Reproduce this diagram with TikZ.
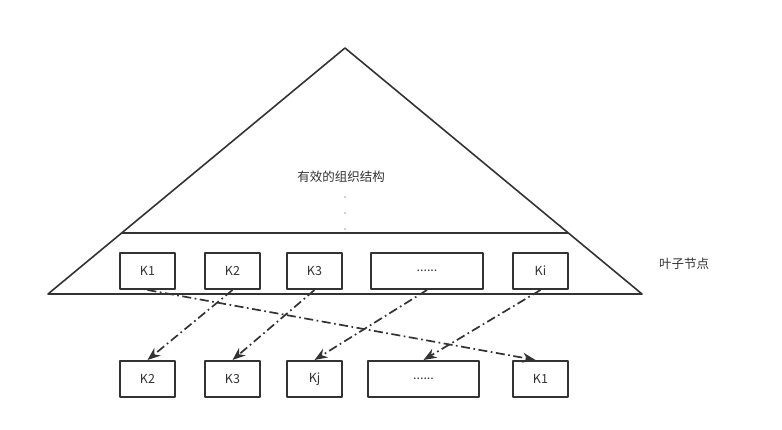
\documentclass[tikz,border=0pt]{standalone}
\usepackage{fontspec}
\setmainfont{Noto Sans CJK SC}
\usetikzlibrary{arrows.meta}
\definecolor{ink}{HTML}{333333}
\begin{document}
\begin{tikzpicture}[x=1pt, y=-1pt, >={Stealth[length=13pt,width=10pt]}, line join=round,
	key/.style={draw=ink, line width=2pt, minimum width=55pt, minimum height=36pt, inner sep=0pt, text=ink, font=\fontsize{12.5}{14}\selectfont},
	link/.style={->, ink, line width=1.7pt, dash pattern=on 9pt off 3.5pt on 1.7pt off 3.5pt}]
	\useasboundingbox (0,0) rectangle (782,430);
	% tree
	\draw[ink, line width=1.6pt] (345,48) -- (642,294) -- (48,294) -- cycle;
	\draw[ink, line width=1.6pt] (121.6,233) -- (568.4,233);
	\path (341,177) node[text=ink, font=\fontsize{12.5}{14}\selectfont] (inner) {有效的组织结构};
	\foreach \y in {197,213,229} \fill[ink] (345,\y) circle (0.6pt);
	\path (684,264) node[text=ink, font=\fontsize{12.5}{14}\selectfont] (leaf) {叶子节点};
	% leaf keys
	\node[key] (a1) at (147.5,271) {K1};
	\node[key] (a2) at (232.5,271) {K2};
	\node[key] (a3) at (314.5,271) {K3};
	\node[key, minimum width=112pt] (a4) at (427,271) {......};
	\node[key] (b1) at (147.5,379) {K2};
	\node[key] (a5) at (540.5,271) {Ki};
	\node[key] (b2) at (232.5,379) {K3};
	\node[key] (b3) at (314.5,379) {Kj};
	\node[key, minimum width=111pt] (b4) at (423.5,379) {......};
	\node[key] (b5) at (540.5,379) {K1};
	\draw[link] (a1.south) -- ([xshift=-5pt]b5.north);
	\draw[link] (a2.south) -- (b1.north);
	\draw[link] (a3.south) -- (b2.north);
	\draw[link] (a4.south) -- (b3.north);
	\draw[link] (a5.south) -- (b4.north);
\end{tikzpicture}
\end{document}
